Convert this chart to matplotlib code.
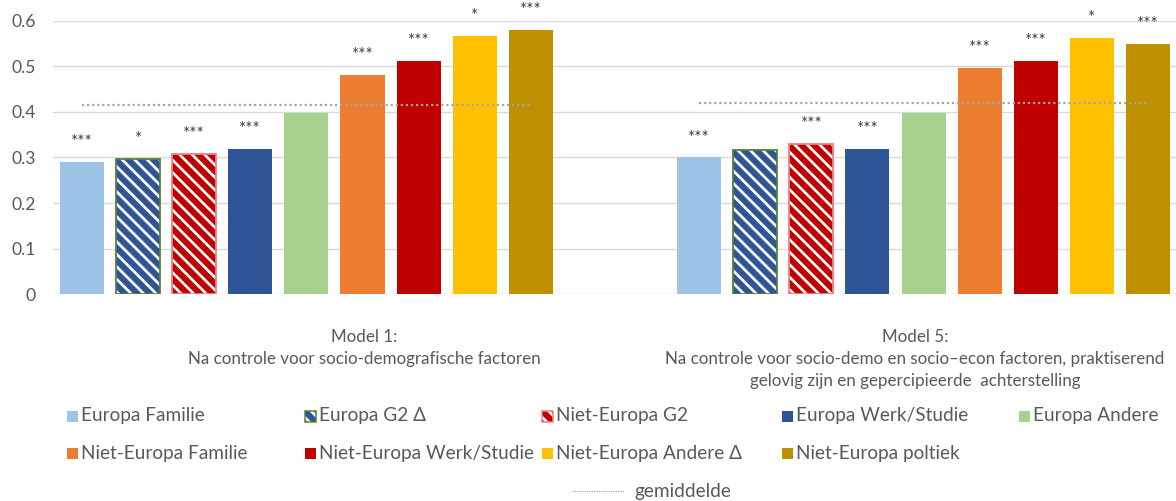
import matplotlib.pyplot as plt
from matplotlib.patches import Rectangle
from matplotlib.lines import Line2D
import numpy as np

# DATA

series = ['Europa Familie', 'Europa G2 Δ', 'Niet-Europa G2', 'Europa Werk/Studie',
          'Europa Andere', 'Niet-Europa Familie', 'Niet-Europa Werk/Studie',
          'Niet-Europa Andere Δ', 'Niet-Europa poltiek']
model1 = [0.291, 0.297, 0.308, 0.319, 0.397, 0.481, 0.512, 0.566, 0.580]
model5 = [0.300, 0.316, 0.329, 0.319, 0.397, 0.496, 0.512, 0.562, 0.549]
stars1 = ['***', '*', '***', '***', '', '***', '***', '*', '***']
stars5 = ['***', '', '***', '***', '', '***', '***', '*', '***']
means  = [0.416, 0.419]
groups = ['Model 1:\nNa controle voor socio-demografische factoren',
          'Model 5:\nNa controle voor socio-demo en socio\u2013econ factoren, praktiserend\n'
          'gelovig zijn en gepercipieerde  achterstelling']
mean_label = 'gemiddelde'

# STYLE

COLORS = ['#9DC3E6', '#2F5597', '#C00000', '#2F5597', '#A9D18E',
          '#ED7D31', '#C00000', '#FFC000', '#BF9000']
HATCH  = [None, '\\\\', '\\\\', None, None, None, None, None, None]
EDGES  = [None, '#548235', '#F08080', None, None, None, None, None, None]
C_TEXT = '#595959'
C_GRID = '#D9D9D9'
C_MEAN = '#A6A6A6'

DPI = 75
W, H = 1176, 501
def pt(px):
    return px * 72 / DPI

plt.rcParams['font.family'] = ['Lato', 'DejaVu Sans']
plt.rcParams['hatch.linewidth'] = 2.6

fig = plt.figure(figsize=(W / DPI, H / DPI), dpi=DPI)
ax = fig.add_axes([53 / W, 1 - 294.3 / H, 1 - 53 / W, (294.3 - 20.7) / H])

offsets = [0, 11]
width = 0.785
n = len(series)

for g, (vals, stars) in enumerate([(model1, stars1), (model5, stars5)]):
    xs = offsets[g] + np.arange(n)
    for i in range(n):
        if HATCH[i]:
            ax.bar(xs[i], vals[i], width, color=COLORS[i], edgecolor='white',
                   hatch=HATCH[i], linewidth=0, zorder=2)
            ax.bar(xs[i], vals[i], width, facecolor='none', edgecolor=EDGES[i],
                   linewidth=pt(1.8), zorder=3)
        else:
            ax.bar(xs[i], vals[i], width, color=COLORS[i], linewidth=0, zorder=2)
        if stars[i]:
            ax.annotate(stars[i], (xs[i], vals[i]), xytext=(0, pt(20)),
                        textcoords='offset points', ha='center', va='center',
                        fontsize=pt(17), color='#404040', annotation_clip=False)
    ax.plot([xs[0], xs[-1]], [means[g], means[g]], color=C_MEAN, lw=pt(2.2),
            linestyle=(0, (1, 1.3)), zorder=4)

ax.set_xlim(-0.517, 19.5)
ax.set_ylim(0, 0.6)
ax.set_yticks(np.arange(0, 0.61, 0.1))
ax.set_yticklabels(['0', '0.1', '0.2', '0.3', '0.4', '0.5', '0.6'])
ax.set_xticks([5.03, 14.85])
ax.set_xticklabels(groups, linespacing=1.45)
ax.tick_params(axis='y', length=0, pad=pt(17), labelsize=pt(17.5), labelcolor=C_TEXT)
ax.tick_params(axis='x', length=0, pad=pt(35), labelsize=pt(17), labelcolor=C_TEXT)
ax.grid(axis='y', color=C_GRID, lw=pt(1.4), zorder=0)
ax.set_axisbelow(True)
for s in ax.spines.values():
    s.set_visible(False)

# legend drawn by hand in Excel-style equal columns
col_x = [67, 305, 542, 782, 1019]
row_y = [416, 453]
sq = 11
for i, name in enumerate(series):
    r, c = divmod(i, 5)
    x0, y0 = col_x[c], row_y[r]
    fig.patches.append(Rectangle(((x0) / W, 1 - (y0 + sq / 2) / H), sq / W, sq / H,
                                 transform=fig.transFigure, facecolor=COLORS[i],
                                 edgecolor='white' if HATCH[i] else 'none',
                                 hatch=HATCH[i], linewidth=0))
    if EDGES[i]:
        fig.patches.append(Rectangle(((x0) / W, 1 - (y0 + sq / 2) / H), sq / W, sq / H,
                                     transform=fig.transFigure, facecolor='none',
                                     edgecolor=EDGES[i], linewidth=pt(1.5)))
    fig.text((x0 + sq + 3) / W, 1 - y0 / H, name, ha='left', va='center',
             fontsize=pt(19), color=C_TEXT)

fig.lines.append(Line2D([572 / W, 625 / W], [1 - 491 / H, 1 - 491 / H],
                        transform=fig.transFigure, color=C_MEAN, lw=pt(1.2),
                        linestyle=(0, (1, 1))))
fig.text(634 / W, 1 - 491 / H, mean_label, ha='left', va='center',
         fontsize=pt(19), color=C_TEXT)

fig.savefig('out.png', dpi=DPI)
